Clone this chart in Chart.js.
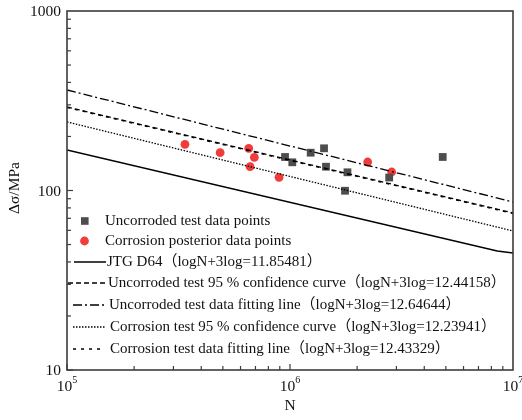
<!DOCTYPE html>
<html><head><meta charset="utf-8">
<script src="https://cdn.jsdelivr.net/npm/chart.js@4/dist/chart.umd.min.js"></script>
<style>html,body{margin:0;padding:0;background:#fff}#wrap{width:522px;height:420px}</style>
</head><body><div id="wrap"><canvas id="c" width="522" height="420"></canvas></div>
<script>
// ---- data ----
const uncorrodedN = [9.50e5, 1.024e6, 1.238e6, 1.421e6, 1.450e6, 1.810e6, 1.765e6, 2.785e6, 4.84e6];
const uncorrodedS = [153.7, 143.6, 162.4, 171.8, 135.7, 126.3, 99.7, 118.1, 153.7];
const corrosionN = [3.38e5, 4.86e5, 6.53e5, 6.92e5, 6.62e5, 8.93e5, 2.23e6, 2.858e6];
const corrosionS = [180.9, 162.4, 171.8, 153.1, 135.7, 118.4, 144.1, 126.8];
const lineN = [1e5, 1e7];
const jtgN = [1e5, 8.5e6, 1e7];
const jtgS = [168, 46.0, 44.9];
const unc95S = [292, 75.0];
const uncFitS = [363, 86.3];
const cor95S = [241, 59.5];
const corFitS = [290, 74.4];
const seriesNames = [
  'Uncorroded test data points',
  'Corrosion posterior data points',
  'JTG D64（logN+3log=11.85481）',
  'Uncorroded test 95 % confidence curve（logN+3log=12.44158）',
  'Uncorroded test data fitting line（logN+3log=12.64644）',
  'Corrosion test 95 % confidence curve（logN+3log=12.23941）',
  'Corrosion test data fitting line（logN+3log=12.43329）'
];
const yTickLabels = ['10', '100', '1000'];
const yTickValues = [10, 100, 1000];
const xTickExps = [5, 6, 7];
const xTitle = 'N';
const yTitle = 'Δσ/MPa';

const pts = (xs, ys) => xs.map((x, i) => ({x, y: ys[i]}));
const FONT = "'Liberation Serif', 'Times New Roman', 'Noto Sans CJK SC', serif";
const SQ = '#4d4d4d', RED = '#f23c3c';

const lineDs = (label, xs, ys, dash, w) => ({
  label, data: pts(xs, ys), showLine: true, borderColor: '#000', borderWidth: w,
  borderDash: dash, pointRadius: 0, fill: false, tension: 0
});

const datasets = [
  lineDs(seriesNames[2], jtgN, jtgS, [], 1.5),
  lineDs(seriesNames[3], lineN, unc95S, [5, 3], 1.3),
  lineDs(seriesNames[4], lineN, uncFitS, [9, 3, 2, 3], 1.3),
  lineDs(seriesNames[5], lineN, cor95S, [1.5, 1.5], 1.3),
  lineDs(seriesNames[6], lineN, corFitS, [3, 5], 1.3),
  {label: seriesNames[0], data: pts(uncorrodedN, uncorrodedS), pointStyle: 'rect', pointRadius: 5.5,
   backgroundColor: SQ, borderColor: SQ, borderWidth: 0, showLine: false},
  {label: seriesNames[1], data: pts(corrosionN, corrosionS), pointStyle: 'circle', pointRadius: 4.4,
   backgroundColor: RED, borderColor: RED, borderWidth: 0, showLine: false}
];

const decor = {
  id: 'decor',
  afterDatasetsDraw(chart) {
    const ctx = chart.ctx, a = chart.chartArea;
    const xs = chart.scales.x, ys = chart.scales.y;
    ctx.save();
    // frame
    ctx.strokeStyle = '#3c3c3c'; ctx.lineWidth = 1.6; ctx.setLineDash([]);
    ctx.strokeRect(a.left, a.top, a.right - a.left, a.bottom - a.top);
    // ticks (inward)
    ctx.lineWidth = 1.2;
    for (let e = 5; e < 7; e++) for (let m = 1; m <= 9; m++) {
      const v = m * Math.pow(10, e); const px = xs.getPixelForValue(v);
      const len = m === 1 ? 6 : 4;
      ctx.beginPath(); ctx.moveTo(px, a.bottom); ctx.lineTo(px, a.bottom - len); ctx.stroke();
    }
    for (let e = 1; e < 3; e++) for (let m = 1; m <= 9; m++) {
      const v = m * Math.pow(10, e); const py = ys.getPixelForValue(v);
      const len = m === 1 ? 6 : 4;
      ctx.beginPath(); ctx.moveTo(a.left, py); ctx.lineTo(a.left + len, py); ctx.stroke();
    }
    // y tick labels
    ctx.fillStyle = '#111'; ctx.font = '15.5px ' + FONT;
    ctx.textAlign = 'right'; ctx.textBaseline = 'middle';
    yTickValues.forEach((v, i) => ctx.fillText(yTickLabels[i], a.left - 6, ys.getPixelForValue(v) + 1));
    // x tick labels 10^k
    xTickExps.forEach(k => {
      const px = xs.getPixelForValue(Math.pow(10, k));
      ctx.font = '15.5px ' + FONT; const w1 = ctx.measureText('10').width;
      ctx.font = '10px ' + FONT; const w2 = ctx.measureText(String(k)).width;
      const x0 = px - (w1 + w2) / 2;
      ctx.textAlign = 'left'; ctx.textBaseline = 'alphabetic';
      ctx.font = '15.5px ' + FONT; ctx.fillText('10', x0, a.bottom + 21);
      ctx.font = '10px ' + FONT; ctx.fillText(String(k), x0 + w1, a.bottom + 13);
    });
    // axis titles
    ctx.font = '15.5px ' + FONT; ctx.textAlign = 'center'; ctx.textBaseline = 'middle';
    ctx.fillText(xTitle, (a.left + a.right) / 2, a.bottom + 36);
    ctx.save(); ctx.translate(15, 188); ctx.rotate(-Math.PI / 2);
    ctx.fillText(yTitle, 0, 0); ctx.restore();
    // legend
    const rows = [221, 241, 262, 283, 305, 327, 349];
    ctx.font = '15px ' + FONT; ctx.textAlign = 'left'; ctx.textBaseline = 'middle';
    // markers
    ctx.fillStyle = SQ; ctx.fillRect(81, rows[0] - 3.8, 7.6, 7.6);
    ctx.fillStyle = RED; ctx.beginPath(); ctx.arc(84.5, rows[1], 4.4, 0, Math.PI * 2); ctx.fill();
    ctx.fillStyle = '#111';
    ctx.fillText(seriesNames[0], 105, rows[0]);
    ctx.fillText(seriesNames[1], 105, rows[1]);
    const samples = [[0, 74, 106, 107], [1, 68, 106, 108], [2, 73, 106, 109], [3, 73, 106, 110], [4, 73, 101, 110]];
    samples.forEach(([di, x1, x2, tx], j) => {
      const ds = datasets[di]; const y = rows[2 + j];
      ctx.strokeStyle = '#000'; ctx.lineWidth = ds.borderWidth; ctx.setLineDash(ds.borderDash);
      ctx.beginPath(); ctx.moveTo(x1, y); ctx.lineTo(x2, y); ctx.stroke();
      ctx.setLineDash([]);
      ctx.fillStyle = '#111'; ctx.fillText(ds.label, tx, y);
    });
    ctx.restore();
  }
};

new Chart(document.getElementById('c'), {
  type: 'scatter',
  data: {datasets},
  options: {
    responsive: false, devicePixelRatio: 1, animation: false,
    layout: {padding: {left: 67, top: 11, right: 9, bottom: 50}},
    scales: {
      x: {type: 'logarithmic', min: 1e5, max: 1e7, display: false},
      y: {type: 'logarithmic', min: 10, max: 1000, display: false}
    },
    plugins: {legend: {display: false}, tooltip: {enabled: false}}
  },
  plugins: [decor]
});
</script></body></html>
